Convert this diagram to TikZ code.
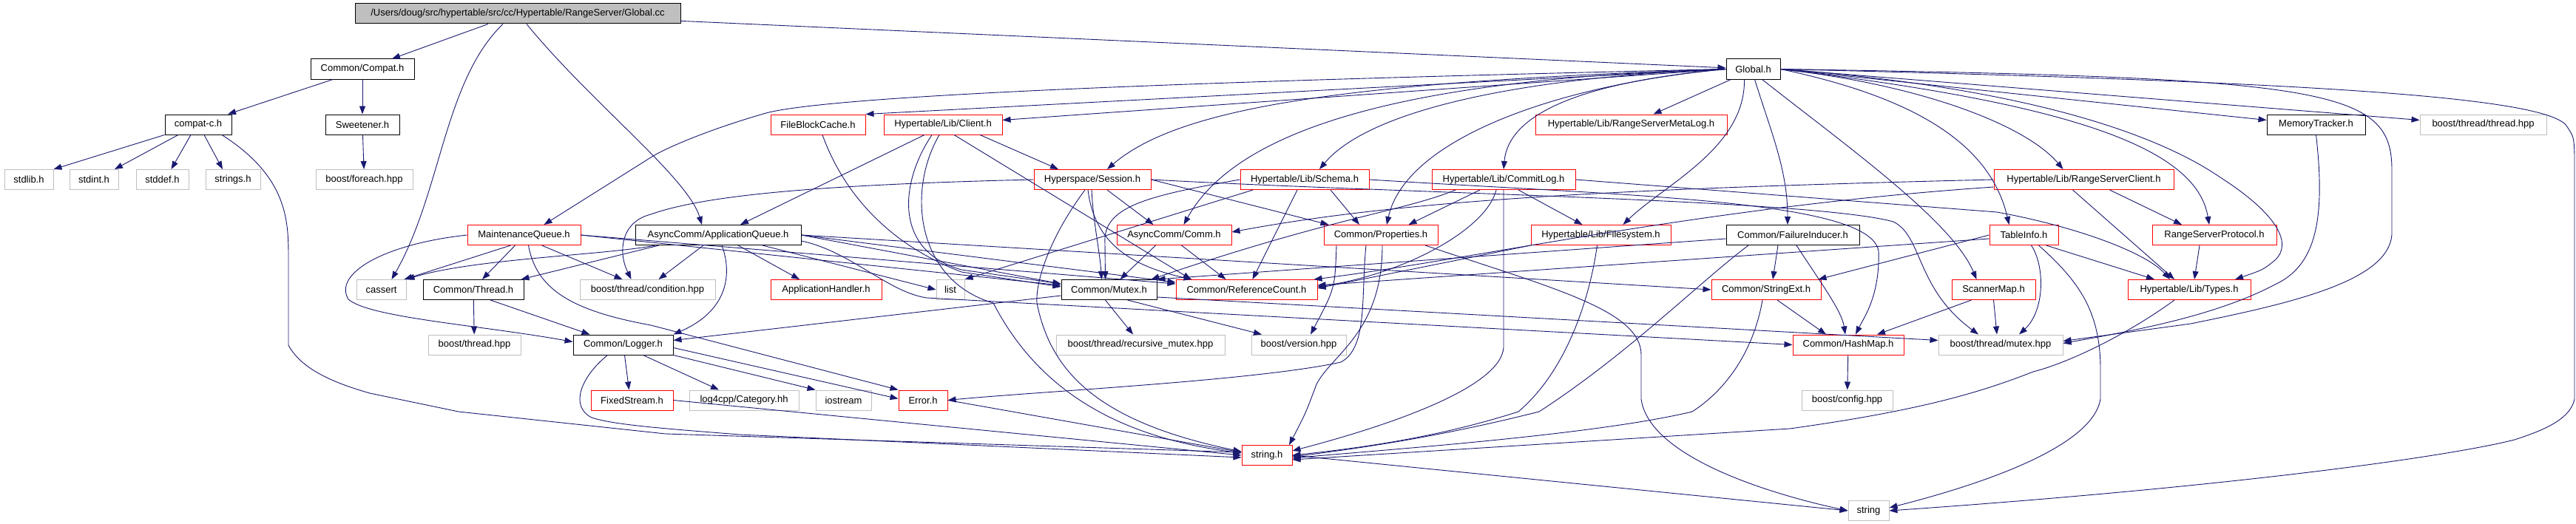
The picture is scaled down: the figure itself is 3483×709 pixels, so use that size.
\documentclass[tikz,border=0pt]{standalone}
\usepackage{fontspec}
\setmainfont{Liberation Sans}
\usetikzlibrary{arrows.meta}
\definecolor{edgec}{HTML}{191970}
\definecolor{grayb}{HTML}{BFBFBF}
\tikzset{
  nb/.style={draw=black, line width=1pt, minimum height=27pt, inner sep=0pt, font=\fontsize{13}{15}\selectfont, text=black},
  rb/.style={nb, draw=red},
  gb/.style={nb, draw=grayb},
  e/.style={draw=edgec, line width=0.9pt, -{Triangle[length=11pt,width=8pt]}},
}
\begin{document}
\begin{tikzpicture}[x=1pt,y=-1pt]
\useasboundingbox (0,0) rectangle (3483,709);
\fill[white] (0,0) rectangle (3483,709);
% nodes
\node[nb, fill=grayb, minimum width=440pt] (gcc) at (700,18.5) {/Users/doug/src/hypertable/src/cc/Hypertable/RangeServer/Global.cc};
\node[nb, minimum width=140pt] (cc) at (490,93.5) {Common/Compat.h};
\node[nb, minimum width=90pt] (cch) at (268,168.5) {compat-c.h};
\node[nb, minimum width=100pt] (sw) at (490,168.5) {Sweetener.h};
\node[gb, minimum width=66pt] (stdlib) at (39,243) {stdlib.h};
\node[gb, minimum width=66pt] (stdint) at (127,243) {stdint.h};
\node[gb, minimum width=71pt] (stddef) at (219.5,243) {stddef.h};
\node[gb, minimum width=74pt] (strings) at (315,243) {strings.h};
\node[gb, minimum width=131pt] (foreach) at (492.5,243) {boost/foreach.hpp};
\node[rb, minimum width=153pt] (mq) at (708.5,318) {MaintenanceQueue.h};
\node[nb, minimum width=224pt] (aq) at (971,318) {AsyncComm/ApplicationQueue.h};
\node[gb, minimum width=67pt] (cassert) at (515.5,392) {cassert};
\node[nb, minimum width=136pt] (thr) at (640,392) {Common/Thread.h};
\node[gb, minimum width=183pt] (cond) at (875.5,392) {boost/thread/condition.hpp};
\node[gb, minimum width=125pt] (bth) at (641.5,466.5) {boost/thread.hpp};
\node[nb, minimum width=135pt] (log) at (842.5,466.5) {Common/Logger.h};
\node[rb, minimum width=111pt] (fs) at (854.5,541.5) {FixedStream.h};
\node[rb, minimum width=128pt] (fbc) at (1106,168.5) {FileBlockCache.h};
\node[rb, minimum width=160pt] (cli) at (1275,168.5) {Hypertable/Lib/Client.h};
\node[rb, minimum width=158pt] (ses) at (1477,243) {Hyperspace/Session.h};
\node[rb, minimum width=174pt] (sch) at (1764,243) {Hypertable/Lib/Schema.h};
\node[rb, minimum width=155pt] (comm) at (1587.5,318) {AsyncComm/Comm.h};
\node[rb, minimum width=150pt] (ah) at (1117,392) {ApplicationHandler.h};
\node[gb, minimum width=38pt] (list) at (1285,392) {list};
\node[nb, minimum width=129pt] (mtx) at (1499.5,392) {Common/Mutex.h};
\node[rb, minimum width=191pt] (rc) at (1685.5,392) {Common/ReferenceCount.h};
\node[gb, minimum width=228pt] (rmtx) at (1542,466.5) {boost/thread/recursive\_mutex.hpp};
\node[gb, minimum width=128pt] (ver) at (1756,466.5) {boost/version.hpp};
\node[gb, minimum width=148pt] (l4c) at (1006,541.5) {log4cpp/Category.hh};
\node[gb, minimum width=75pt] (ios) at (1140.5,541.5) {iostream};
\node[rb, minimum width=66pt] (err) at (1248,541.5) {Error.h};
\node[rb, minimum width=68pt] (str) at (1713,616) {string.h};
\node[nb, minimum width=73pt] (gh) at (2370.5,93.5) {Global.h};
\node[rb, minimum width=259pt] (rsml) at (2205.5,168.5) {Hypertable/Lib/RangeServerMetaLog.h};
\node[rb, minimum width=194pt] (clog) at (2033,243) {Hypertable/Lib/CommitLog.h};
\node[rb, minimum width=154pt] (prop) at (1867,318) {Common/Properties.h};
\node[rb, minimum width=189pt] (fsys) at (2164.5,318) {Hypertable/Lib/Filesystem.h};
\node[nb, minimum width=180pt] (fi) at (2424,318) {Common/FailureInducer.h};
\node[rb, minimum width=148pt] (sext) at (2388,392) {Common/StringExt.h};
\node[rb, minimum width=150pt] (hm) at (2499,466.5) {Common/HashMap.h};
\node[gb, minimum width=123pt] (bcfg) at (2497.5,541.5) {boost/config.hpp};
\node[gb, minimum width=55pt] (string) at (2526.5,691) {string};
\node[nb, minimum width=133pt] (mt) at (3131.5,168.5) {MemoryTracker.h};
\node[gb, minimum width=171pt] (bthr) at (3357.5,168.5) {boost/thread/thread.hpp};
\node[rb, minimum width=243pt] (rsc) at (2817.5,243) {Hypertable/Lib/RangeServerClient.h};
\node[rb, minimum width=93pt] (ti) at (2736.5,318) {TableInfo.h};
\node[rb, minimum width=168pt] (rsp) at (2994,318) {RangeServerProtocol.h};
\node[rb, minimum width=113pt] (sm) at (2695.5,392) {ScannerMap.h};
\node[rb, minimum width=166pt] (types) at (2960,392) {Hypertable/Lib/Types.h};
\node[gb, minimum width=168pt] (bmtx) at (2705,466.5) {boost/thread/mutex.hpp};
% Global.cc
\draw[e] ([xshift=-40pt]gcc.south) -- ([xshift=40pt]cc.north);
\draw[e] ([xshift=-20pt]gcc.south) .. controls (600,110) and (597,260) .. ([xshift=14pt]cassert.north);
\draw[e] ([xshift=12pt]gcc.south) .. controls (800,140) and (930,240) .. ([xshift=-22pt]aq.north);
\draw[e] (gcc) -- (gh);
% Compat
\draw[e] ([xshift=-40pt]cc.south) -- ([xshift=40pt]cch.north);
\draw[e] (cc) -- (sw);
\draw[e] (cch.south west) -- (stdlib.north east);
\draw[e] ([xshift=-27pt]cch.south) -- ([xshift=28pt]stdint.north);
\draw[e] ([xshift=-10pt]cch.south) -- ([xshift=12pt]stddef.north);
\draw[e] ([xshift=8pt]cch.south) -- ([xshift=-14pt]strings.north);
\draw[e] ([xshift=32pt]cch.south) .. controls (390,240) and (390,300) .. (390,350) -- (390,467) .. controls (405,495) and (440,515) .. (500,532) -- (620,557) -- (900,587) -- ([yshift=4pt]str.west);
\draw[e] (sw) -- (foreach);
% Global.h
\draw[e] (gh.west) .. controls (1600,110) and (1100,130) .. (1029,155) .. controls (960,175) and (900,200) .. (880,213) -- ([xshift=27pt]mq.north);
\draw[e] (gh.west) -- (fbc.north east);
\draw[e] (gh.west) -- ([yshift=6pt]cli.east);
\draw[e] (gh.west) .. controls (1850,110) and (1600,140) .. ([xshift=20pt]ses.north);
\draw[e] (gh.west) .. controls (1950,105) and (1680,160) .. ([xshift=13pt]comm.north);
\draw[e] (gh.west) .. controls (2050,105) and (1850,150) .. ([xshift=20pt]sch.north);
\draw[e] ([xshift=-30pt]gh.south) -- ([xshift=30pt]rsml.north);
\draw[e] (gh.west) .. controls (2150,110) and (2040,150) .. (clog.north);
\draw[e] (gh.west) .. controls (2100,115) and (1900,190) .. ([xshift=8pt]prop.north);
\draw[e] ([xshift=-12pt]gh.south) .. controls (2360,200) and (2250,250) .. ([xshift=30pt]fsys.north);
\draw[e] ([xshift=2pt]gh.south) .. controls (2395,180) and (2417,230) .. ([xshift=-7pt]fi.north);
\draw[e] ([xshift=12pt]gh.south) .. controls (2500,200) and (2640,300) .. ([xshift=-23pt]sm.north);
\draw[e] (gh.east) .. controls (2600,115) and (2740,170) .. ([xshift=-28pt]rsc.north);
\draw[e] (gh.east) .. controls (2580,130) and (2690,190) .. ([xshift=-20pt]ti.north);
\draw[e] (gh.east) .. controls (2800,140) and (2970,200) .. ([xshift=-7pt]rsp.north);
\draw[e] (gh.east) -- ([yshift=6pt]mt.west);
\draw[e] (gh.east) -- ([yshift=6pt]bthr.west);
\draw[e] (gh.east) .. controls (2700,115) and (2900,170) .. (3002,240) .. controls (3080,290) and (3100,330) .. (3076,352) .. controls (3060,365) .. ([xshift=62pt]types.north);
\draw[e] (gh.east) .. controls (3150,105) and (3234,120) .. (3234,230) -- (3234,317) .. controls (3230,380) and (3100,410) .. (2962,438) -- ([yshift=5pt]bmtx.east);
\draw[e] (gh.east) .. controls (3100,110) and (3440,130) .. (3470,170) .. controls (3480,185) .. (3481,210) -- (3481,540) .. controls (3475,570) and (3430,585) .. (3400,595) .. controls (3300,620) and (3000,660) .. (string.east);
% MaintenanceQueue
\draw[e] (mq.west) .. controls (520,330) and (450,370) .. (471,405) .. controls (500,430) and (650,440) .. ([yshift=4pt]log.west);
\draw[e] ([xshift=-18pt]mq.south) -- ([xshift=-3pt]cassert.north east);
\draw[e] ([xshift=-12pt]mq.south) -- ([xshift=12pt]thr.north);
\draw[e] ([xshift=6pt]mq.south) .. controls (725,390) and (770,420) .. (880,440) -- (err.north west);
\draw[e] ([xshift=24pt]mq.south) -- ([xshift=-34pt]cond.north);
\draw[e] (mq.east) -- ([yshift=6pt]mtx.west);
\draw[e] (mq.east) -- ([yshift=8pt]rc.west);
% ApplicationQueue
\draw[e] ([xshift=-85pt]aq.south) .. controls (820,345) and (640,350) .. (cassert.north east);
\draw[e] ([xshift=-80pt]aq.south) -- ([xshift=-4pt]thr.north east);
\draw[e] ([xshift=-20pt]aq.south) -- ([xshift=15pt]cond.north);
\draw[e] ([xshift=5pt]aq.south) .. controls (990,370) and (985,420) .. (log.north east);
\draw[e] ([xshift=27pt]aq.south) -- ([xshift=-36pt]ah.north);
\draw[e] ([xshift=60pt]aq.south) -- (list.west);
\draw[e] (aq.east) -- ([yshift=8pt]mtx.west);
\draw[e] (aq.east) -- ([yshift=10pt]rc.west);
\draw[e] (aq.east) -- (sext.west);
\draw[e] ([yshift=-8pt]aq.east) .. controls (1150,340) and (1200,395) .. (1253,403) -- (hm.west);
% Thread, Logger
\draw[e] (thr) -- (bth);
\draw[e] ([xshift=23pt]thr.south) -- ([xshift=-45pt]log.north);
\draw[e] ([xshift=-21pt]log.south) .. controls (785,510) and (770,550) .. (800,565) .. controls (830,575) and (900,580) .. (1000,588) -- ([yshift=-3pt]str.west);
\draw[e] ([xshift=2pt]log.south) -- ([xshift=-4pt]fs.north);
\draw[e] ([xshift=27pt]log.south) -- ([xshift=-34pt]l4c.north);
\draw[e] (log.south east) -- (ios.north west);
\draw[e] ([yshift=-4pt]log.east) -- ([yshift=2pt]err.west);
\draw[e] (fs.east) -- (str.west);
\draw[e] (err.east) -- ([yshift=4pt]str.west);
\draw[e] (str.east) -- (string.west);
% Mutex
\draw[e] ([yshift=-8pt]mtx.west) -- ([yshift=6pt]log.east);
\draw[e] ([xshift=-5pt]mtx.south) -- ([xshift=-10pt]rmtx.north);
\draw[e] ([xshift=25pt]mtx.south) -- ([xshift=-50pt]ver.north);
\draw[e] ([yshift=-10pt]mtx.east) -- ([yshift=6pt]bmtx.west);
% Client
\draw[e] ([xshift=-25pt]cli.south) -- ([xshift=30pt]aq.north);
\draw[e] ([xshift=-15pt]cli.south) .. controls (1215,250) and (1210,340) .. (1300,365) -- ([yshift=8pt]mtx.west);
\draw[e] ([xshift=15pt]cli.south) -- ([xshift=-75pt]rc.north);
\draw[e] ([xshift=-5pt]cli.south) .. controls (1225,260) and (1240,380) .. (1343,410) .. controls (1400,520) and (1500,590) .. ([yshift=3pt]str.west);
\draw[e] ([xshift=50pt]cli.south) -- ([xshift=-46pt]ses.north);
% FileBlockCache
\draw[e] ([xshift=6pt]fbc.south) .. controls (1140,260) and (1200,330) .. (1300,368) -- ([yshift=4pt]mtx.west);
% Session
\draw[e] (ses.west) .. controls (1100,250) and (950,265) .. (880,290) .. controls (840,300) and (835,340) .. ([xshift=-22pt]cond.north);
\draw[e] ([xshift=-10pt]ses.south) .. controls (1420,320) and (1400,380) .. (1402,410) .. controls (1420,500) and (1480,570) .. ([yshift=5pt]str.west);
\draw[e] ([xshift=-1pt]ses.south) .. controls (1478,300) and (1487,340) .. ([xshift=-10pt]mtx.north);
\draw[e] ([xshift=20pt]ses.south) -- ([xshift=-28pt]comm.north);
\draw[e] (ses.east) -- ([xshift=7pt]prop.north west);
\draw[e] ([xshift=-6pt]ses.south) .. controls (1480,330) and (1530,360) .. ([xshift=22pt]rc.north west);
\draw[e] (ses.east) .. controls (1900,262) and (2450,270) .. (2560,300) .. controls (2600,320) and (2590,390) .. ([xshift=-30pt]bmtx.north);
% Schema
\draw[e] ([xshift=-70pt]sch.south) -- (list.north east);
\draw[e] (sch.west) .. controls (1550,265) and (1490,280) .. (1494,330) -- ([xshift=-5pt]mtx.north);
\draw[e] ([xshift=-10pt]sch.south) -- ([xshift=8pt]rc.north);
\draw[e] ([xshift=35pt]sch.south) -- ([xshift=-29pt]prop.north);
\draw[e] (sch.east) .. controls (2200,265) and (2530,270) .. (2540,340) .. controls (2542,400) and (2520,430) .. ([xshift=10pt]hm.north);
% Comm
\draw[e] ([xshift=-25pt]comm.south) -- ([xshift=15pt]mtx.north);
\draw[e] ([xshift=10pt]comm.south) -- ([xshift=-28pt]rc.north);
% CommitLog
\draw[e] ([xshift=-65pt]clog.south) .. controls (1900,285) and (1800,295) .. ([xshift=-8pt]mtx.north east);
\draw[e] ([xshift=-32pt]clog.south) -- ([xshift=-40pt]prop.north east);
\draw[e] ([xshift=-10pt]clog.south) .. controls (2010,310) and (1900,370) .. ([yshift=4pt]rc.east);
\draw[e] (clog.south) -- (2033,470) .. controls (2030,520) and (1900,570) .. ([yshift=6pt]str.east);
\draw[e] ([xshift=20pt]clog.south) -- ([xshift=-25pt]fsys.north);
\draw[e] (clog.east) -- (2700,287) .. controls (2800,305) and (2900,340) .. ([xshift=-26pt]types.north);
% Properties
\draw[e] ([xshift=-20pt]prop.south) .. controls (1840,400) and (1850,470) .. (1813,490) .. controls (1700,515) and (1400,530) .. (err.east);
\draw[e] ([xshift=-60pt]prop.south) .. controls (1805,390) .. ([xshift=16pt]ver.north);
\draw[e] ([xshift=2pt]prop.south) .. controls (1869,450) and (1800,480) .. (1780,520) .. controls (1765,560) .. ([xshift=30pt]str.north);
\draw[e] ([xshift=60pt]prop.south) .. controls (2100,390) and (2219,420) .. (2219,480) -- (2219,540) .. controls (2230,620) and (2400,670) .. (string.west);
% Filesystem
\draw[e] (fsys.south west) -- ([yshift=2pt]rc.east);
\draw[e] ([xshift=-5pt]fsys.south) .. controls (2150,400) and (2120,500) .. (2053,557) .. controls (1950,590) and (1850,605) .. (str.east);
% FailureInducer
\draw[e] ([xshift=-20pt]fi.south) -- ([xshift=9pt]sext.north);
\draw[e] ([xshift=5pt]fi.south) .. controls (2460,380) and (2490,420) .. ([xshift=-4pt]hm.north);
\draw[e] ([xshift=-60pt]fi.south) .. controls (2300,380) and (2200,480) .. (2081,557) .. controls (1950,590) and (1850,605) .. ([yshift=-2pt]str.east);
\draw[e] ([yshift=-5pt]fi.west) -- (mtx.north east);
% StringExt, HashMap
\draw[e] ([xshift=15pt]sext.south) -- ([xshift=-30pt]hm.north);
\draw[e] ([xshift=-5pt]sext.south) .. controls (2370,480) and (2330,530) .. (2288,557) .. controls (2150,590) and (1850,610) .. ([yshift=-4pt]str.east);
\draw[e] (hm) -- (bcfg);
% ScannerMap
\draw[e] ([xshift=-30pt]sm.south) -- ([xshift=39pt]hm.north);
\draw[e] (sm.south) -- ([xshift=-5pt]bmtx.north);
% TableInfo
\draw[e] ([xshift=10pt]ti.south) .. controls (2765,360) and (2765,420) .. ([xshift=25pt]bmtx.north);
\draw[e] ([xshift=20pt]ti.south) .. controls (2810,380) and (2840,420) .. (2840,500) -- (2840,540) .. controls (2830,600) and (2700,650) .. ([yshift=4pt]string.east);
\draw[e] ([xshift=30pt]ti.south) -- ([xshift=-47pt]types.north);
\draw[e] (ti.west) -- ([xshift=-4pt]sext.north east);
\draw[e] ([yshift=-5pt]ti.west) -- ([yshift=6pt]rc.east);
% RangeServerClient
\draw[e] (rsc.west) .. controls (2200,255) and (1900,270) .. ([yshift=4pt]comm.east);
\draw[e] ([yshift=-10pt]rsc.west) .. controls (2300,280) and (2000,350) .. ([xshift=-5pt]rc.north east);
\draw[e] ([xshift=-15pt]rsc.south) -- ([xshift=-20pt]types.north);
\draw[e] ([xshift=35pt]rsc.south) -- ([xshift=-44pt]rsp.north);
\draw[e] ([xshift=-20pt]rsp.south) -- ([xshift=7pt]types.north);
% MemoryTracker, Types
\draw[e] (mt.south) .. controls (3145,300) and (3130,360) .. (3076,385) .. controls (3000,425) and (2900,445) .. ([yshift=2pt]bmtx.east);
\draw[e] ([xshift=-20pt]types.south) .. controls (2880,450) and (2800,490) .. (2749,503) .. controls (2680,530) and (2600,555) .. (2420,580) -- ([yshift=-6pt]str.east);
\end{tikzpicture}
\end{document}
